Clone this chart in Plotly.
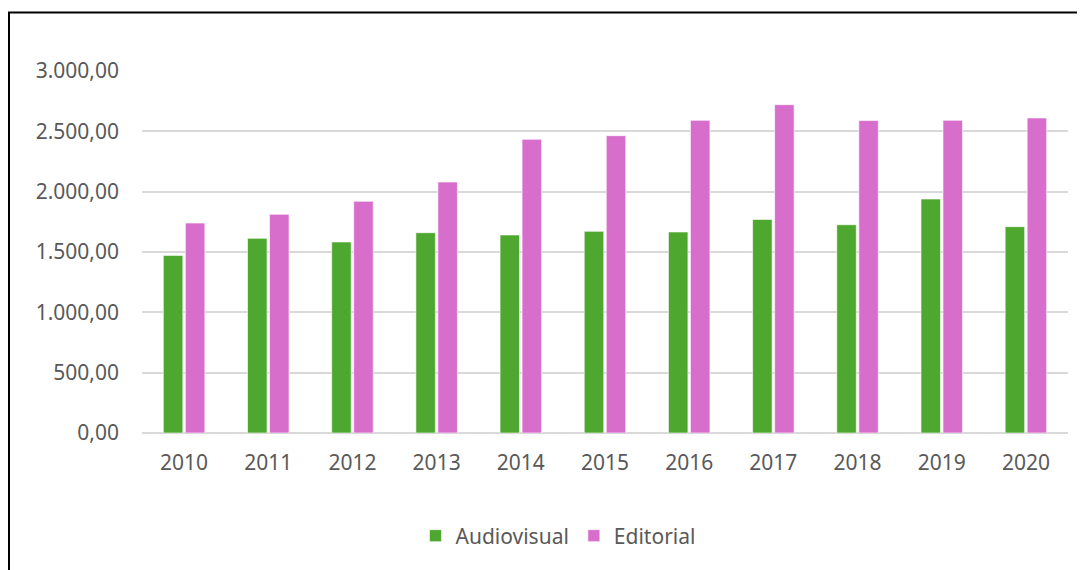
import plotly.graph_objects as go

years = ["2010", "2011", "2012", "2013", "2014", "2015", "2016", "2017", "2018", "2019", "2020"]
audiovisual = [1472, 1613, 1583, 1660, 1641, 1671, 1666, 1770, 1726, 1939, 1710]
editorial = [1740, 1812, 1920, 2080, 2434, 2464, 2591, 2721, 2589, 2591, 2611]

FONT = "Noto Sans"
TXT = "#595959"
FS = 21

fig = go.Figure()
fig.add_trace(go.Bar(x=years, y=audiovisual, name="Audiovisual",
                     marker=dict(color="#4EA72E", line=dict(color="rgba(255,255,255,0.6)", width=1))))
fig.add_trace(go.Bar(x=years, y=editorial, name="Editorial",
                     marker=dict(color="#D86ECC", line=dict(color="rgba(255,255,255,0.6)", width=1))))

OFF = 8  # page body margin
W, H = 1085 - OFF, 570 - OFF
L, T = 142 - OFF, 71 - OFF
R = W - (1068 - OFF)
B = H - (433 - OFF)
pw, ph = W - L - R, H - T - B

def px_x(p):
    return (p - OFF - L) / pw

def px_y(p):
    return (H - B - (p - OFF)) / ph

fig.update_layout(
    width=W, height=H,
    margin=dict(l=L, r=R, t=T, b=B, autoexpand=False),
    paper_bgcolor="white", plot_bgcolor="white",
    barmode="group", bargap=0.477, bargroupgap=0.114,
    separators=",.",
    font=dict(family=FONT, size=FS, color=TXT),
    showlegend=True,
    legend=dict(orientation="h", x=px_x(558), xanchor="center", y=px_y(536), yanchor="middle",
                font=dict(family=FONT, size=FS, color=TXT), itemclick=False),
    xaxis=dict(showgrid=False, showline=False, ticks="", ticklabelstandoff=15,
               tickfont=dict(family=FONT, size=FS, color=TXT)),
    yaxis=dict(range=[0, 3000], dtick=500, tickformat=",.2f", showgrid=True,
               gridcolor="#D9D9D9", gridwidth=1.5, zeroline=True, zerolinecolor="#D9D9D9",
               zerolinewidth=1.5, showline=False, ticks="", ticklabelstandoff=22,
               tickfont=dict(family=FONT, size=FS, color=TXT)),
    shapes=[dict(type="rect", xref="paper", yref="paper",
                 x0=px_x(9), x1=px_x(1300), y0=px_y(800), y1=px_y(12.5),
                 line=dict(color="black", width=2), fillcolor="rgba(0,0,0,0)", layer="above")],
)

fig.write_html("out.html")
